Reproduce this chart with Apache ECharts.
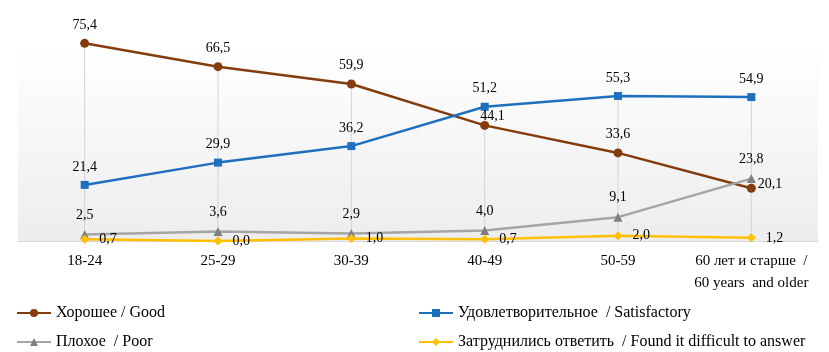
<!DOCTYPE html>
<html>
<head>
<meta charset="utf-8">
<script src="https://cdn.jsdelivr.net/npm/echarts@6/dist/echarts.min.js"></script>
<style>
  html, body { margin: 0; padding: 0; background: #fff; }
  #chart { width: 829px; height: 352px; }
</style>
</head>
<body>
<div id="chart"></div>
<script>
const categories = ['18-24', '25-29', '30-39', '40-49', '50-59', '60 лет и старше  /\n60 years  and older'];
const good = [75.4, 66.5, 59.9, 44.1, 33.6, 20.1];
const satisfactory = [21.4, 29.9, 36.2, 51.2, 55.3, 54.9];
const poor = [2.5, 3.6, 2.9, 4.0, 9.1, 23.8];
const difficult = [0.7, 0.0, 1.0, 0.7, 2.0, 1.2];

const names = ['Хорошее / Good', 'Удовлетворительное  / Satisfactory', 'Плохое  / Poor', 'Затруднились ответить  / Found it difficult to answer'];

// drop lines go from the highest point down to the axis
const dropTop = categories.map((c, i) => Math.max(good[i], satisfactory[i], poor[i], difficult[i]));

const font = 'Liberation Serif';
const fmt = function (p) { return p.value.toFixed(1).replace('.', ','); };

const myChart = echarts.init(document.getElementById('chart'));

function lbl(extra) {
  return Object.assign({
    show: true, position: 'top', distance: 7, formatter: fmt,
    fontFamily: font, fontSize: 14, color: '#000'
  }, extra || {});
}

function leg(name, left, top) {
  return {
    data: [name], left: left, top: top,
    itemWidth: 34, itemHeight: 10,
    textStyle: { fontFamily: font, fontSize: 16, color: '#000' }
  };
}

const goodData = good.map((v, i) => {
  if (i === 3) return { value: v, label: { position: 'right', distance: 0, offset: [-9, -9] } };
  if (i === 5) return { value: v, label: { position: 'right', distance: 2, offset: [0, -4] } };
  return v;
});

const option = {
  animation: false,
  grid: {
    left: 18, right: 11, top: 47, bottom: 111,
    show: true, borderWidth: 0,
    backgroundColor: new echarts.graphic.LinearGradient(0, 0, 0, 1, [
      { offset: 0, color: '#ffffff' },
      { offset: 1, color: '#ededed' }
    ])
  },
  legend: [
    leg(names[0], 11, 300),
    leg(names[2], 11, 329),
    leg(names[1], 413, 300),
    leg(names[3], 413, 329)
  ],
  xAxis: {
    type: 'category', data: categories, boundaryGap: true,
    axisLine: { lineStyle: { color: '#d9d9d9', width: 1 } },
    axisTick: { show: false },
    axisLabel: { interval: 0, margin: 9, fontFamily: font, fontSize: 15, color: '#000', lineHeight: 22 }
  },
  yAxis: {
    type: 'value', min: 0, max: 74, show: false,
    splitLine: { show: false }
  },
  series: [
    {
      name: 'drop', type: 'bar', data: dropTop, barWidth: 1, silent: true,
      itemStyle: { color: '#d4d4d4' }, z: 1
    },
    {
      name: names[0], type: 'line', data: goodData, clip: false,
      symbol: 'circle', symbolSize: 9,
      lineStyle: { color: '#843c0c', width: 2.5 },
      itemStyle: { color: '#843c0c' },
      label: lbl(), z: 3
    },
    {
      name: names[1], type: 'line', data: satisfactory, clip: false,
      symbol: 'rect', symbolSize: 8,
      lineStyle: { color: '#1f6fbf', width: 2.5 },
      itemStyle: { color: '#1f6fbf' },
      label: lbl(), z: 3
    },
    {
      name: names[2], type: 'line', data: poor, clip: false,
      symbol: 'triangle', symbolSize: 9,
      lineStyle: { color: '#a5a5a5', width: 2.5 },
      itemStyle: { color: '#7f7f7f' },
      label: lbl({ distance: 8 }), z: 4
    },
    {
      name: names[3], type: 'line', data: difficult, clip: false,
      symbol: 'diamond', symbolSize: 9,
      lineStyle: { color: '#ffc000', width: 2.5 },
      itemStyle: { color: '#ffc000' },
      label: lbl({ position: 'right', distance: 10 }), z: 5
    }
  ]
};

myChart.setOption(option);
</script>
</body>
</html>
